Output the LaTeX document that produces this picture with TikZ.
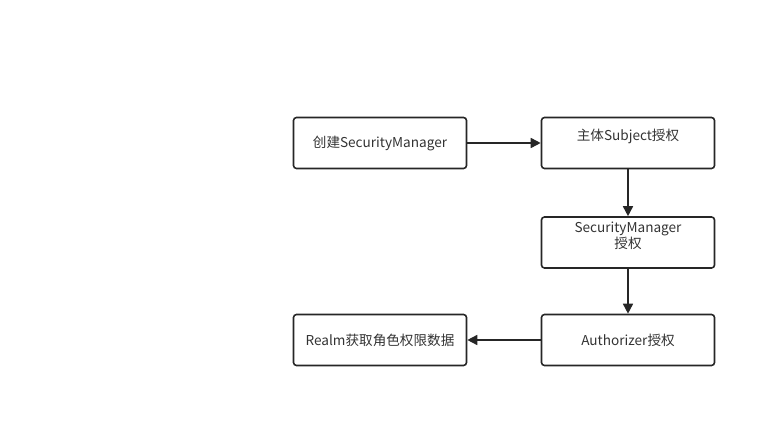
\documentclass[tikz,border=0pt]{standalone}
\usepackage{fontspec}
\setmainfont{Noto Sans CJK SC}
\usetikzlibrary{arrows.meta}
\begin{document}
\begin{tikzpicture}[x=1pt,y=-1pt,
  txt/.style={font=\fontsize{13.6}{16.5}\selectfont,text=black!80},
  box/.style={draw=black!85,line width=1.6pt,rounded corners=3pt,minimum width=173pt,minimum height=51pt,inner sep=0pt,txt},
  conn/.style={draw=black!85,line width=1.6pt,-{Triangle[length=10pt,width=10pt]}}]
\useasboundingbox (0,0) rectangle (776,427);
\node[box] (a) at (380,143) {\raisebox{-1.5pt}{创建SecurityManager}};
\node[box] (b) at (628,143) {};
\node[txt] (bt) at (628,136) {主体Subject授权};
\node[box] (c) at (628,242.5) {};
\node[txt,align=center] (ct) at (628,236) {SecurityManager\\授权};
\node[box] (d) at (628,340) {\raisebox{-1.5pt}{Authorizer授权}};
\node[box] (e) at (380,340) {\raisebox{-1.5pt}{Realm获取角色权限数据}};
\draw[conn] (a) -- (b);
\draw[conn] (b) -- (c);
\draw[conn] (c) -- (d);
\draw[conn] (d) -- (e);
\end{tikzpicture}
\end{document}
